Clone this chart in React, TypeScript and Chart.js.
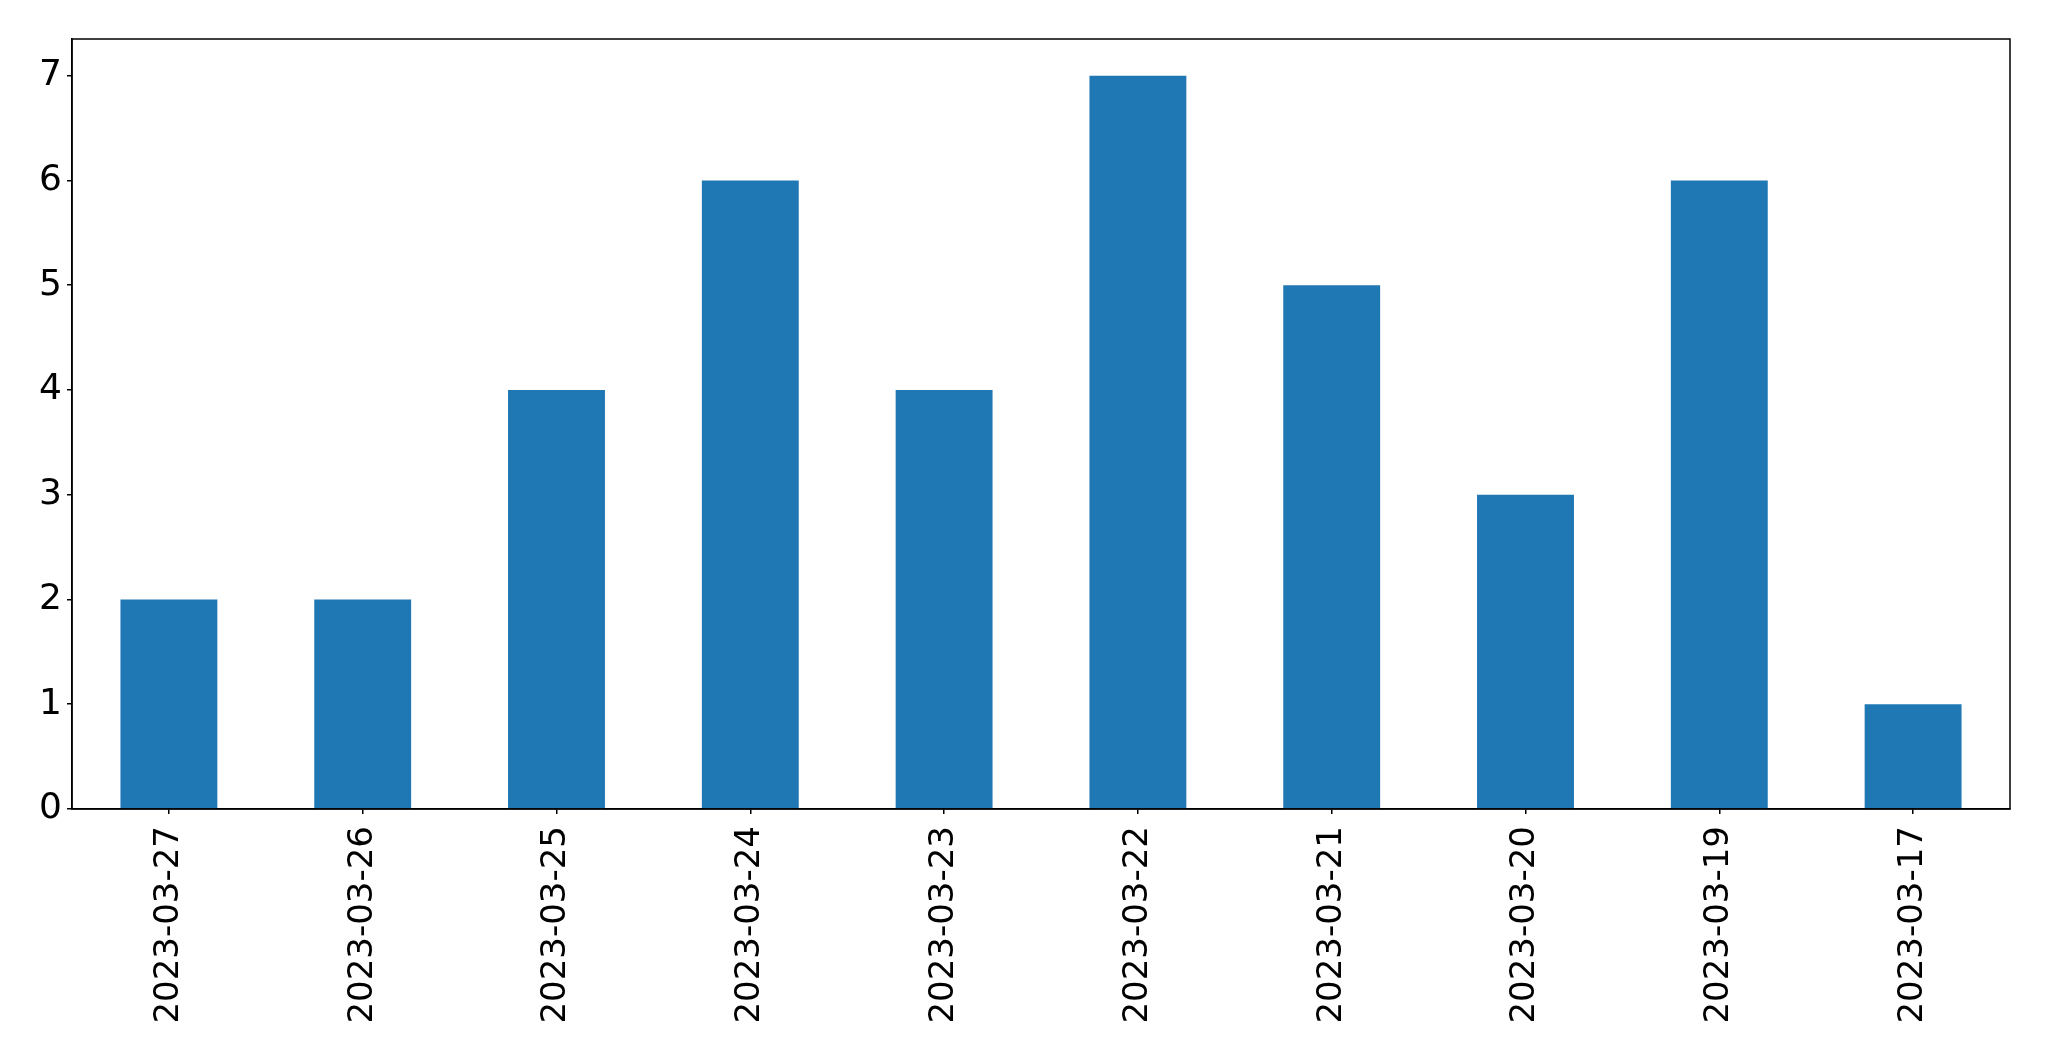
import React, { useEffect, useRef } from "react";
import { Chart, registerables } from "chart.js";

Chart.register(...registerables);

const categories = [
  "2023-03-27",
  "2023-03-26",
  "2023-03-25",
  "2023-03-24",
  "2023-03-23",
  "2023-03-22",
  "2023-03-21",
  "2023-03-20",
  "2023-03-19",
  "2023-03-17",
];
const counts = [2, 2, 4, 6, 4, 7, 5, 3, 6, 1];
const yTicks = [0, 1, 2, 3, 4, 5, 6, 7];
const yMax = 7.35;

const framePlugin = {
  id: "frame",
  afterDraw(chart: any) {
    const { ctx, chartArea } = chart;
    ctx.save();
    ctx.strokeStyle = "#000";
    ctx.lineWidth = 1.5;
    ctx.strokeRect(chartArea.left, chartArea.top, chartArea.right - chartArea.left, chartArea.bottom - chartArea.top);
    ctx.restore();
  },
};

export default function App() {
  const ref = useRef<HTMLCanvasElement | null>(null);
  useEffect(() => {
    document.body.style.margin = "0";
    const xFont = { family: "'DejaVu Sans', sans-serif", size: 34 };
    const yFont = { family: "'DejaVu Sans', sans-serif", size: 36 };
    const chart = new Chart(ref.current as HTMLCanvasElement, {
      type: "bar",
      data: {
        labels: categories,
        datasets: [
          {
            data: counts,
            backgroundColor: "#1f77b4",
            borderWidth: 0,
            barPercentage: 0.5,
            categoryPercentage: 1.0,
          },
        ],
      },
      options: {
        animation: false,
        responsive: false,
        devicePixelRatio: 1,
        layout: { padding: { left: 0, top: 39, right: 39, bottom: 0 } },
        plugins: { legend: { display: false }, tooltip: { enabled: false } },
        scales: {
          x: {
            offset: true,
            grid: { display: true, drawOnChartArea: false, drawTicks: true, tickLength: 5, color: "#000", lineWidth: 1.5, offset: false },
            border: { display: true, color: "#000", width: 1.5 },
            ticks: { color: "#000", font: xFont, minRotation: 90, maxRotation: 90, padding: 12, autoSkip: false },
            afterFit(scale: any) {
              scale.height = 252;
            },
          },
          y: {
            min: 0,
            max: yMax,
            grid: { display: true, drawOnChartArea: false, drawTicks: true, tickLength: 5, color: "#000", lineWidth: 1.5 },
            border: { display: true, color: "#000", width: 1.5 },
            ticks: { color: "#000", font: yFont, padding: 5 },
            afterBuildTicks(scale: any) {
              scale.ticks = yTicks.map((v) => ({ value: v }));
            },
            afterFit(scale: any) {
              scale.width = 72;
            },
          },
        },
      },
      plugins: [framePlugin],
    });
    return () => chart.destroy();
  }, []);
  return (
    <div style={{ position: "fixed", left: 0, top: 0, width: 2049, height: 1061, background: "#fff" }}>
      <canvas ref={ref} width={2049} height={1061} style={{ width: 2049, height: 1061 }} />
    </div>
  );
}
